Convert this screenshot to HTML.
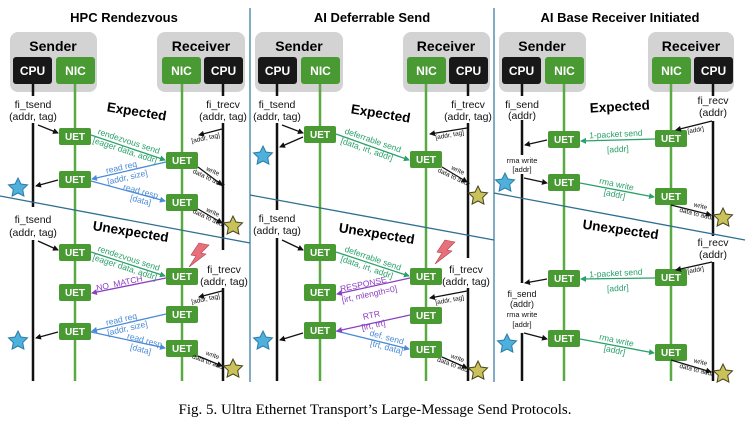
<!DOCTYPE html>
<html><head><meta charset="utf-8"><style>
html,body{margin:0;padding:0;background:#fff;}
svg{display:block;font-family:"Liberation Sans",sans-serif;}
.t{font-weight:bold;font-size:13px;text-anchor:middle;}
.hd{font-weight:bold;font-size:14px;text-anchor:middle;}
.bx{font-weight:bold;font-size:12px;fill:#fff;text-anchor:middle;}
.u{font-weight:bold;font-size:10px;fill:#fff;text-anchor:middle;}
.lb{font-size:10.5px;text-anchor:middle;fill:#111;}
.s{font-size:7.5px;text-anchor:middle;}
.ex{font-weight:bold;font-size:13.5px;text-anchor:middle;}
</style></head><body>
<svg width="750" height="428" viewBox="0 0 750 428" xmlns="http://www.w3.org/2000/svg">
<defs>
<marker id="ak" markerWidth="6" markerHeight="6" refX="5" refY="3" orient="auto" markerUnits="userSpaceOnUse"><path d="M0,0L6,3L0,6z" fill="#111"/></marker>
<marker id="ag" markerWidth="6" markerHeight="6" refX="5" refY="3" orient="auto" markerUnits="userSpaceOnUse"><path d="M0,0L6,3L0,6z" fill="#2aa06a"/></marker>
<marker id="ab" markerWidth="6" markerHeight="6" refX="5" refY="3" orient="auto" markerUnits="userSpaceOnUse"><path d="M0,0L6,3L0,6z" fill="#4a8ad6"/></marker>
<marker id="ap" markerWidth="6" markerHeight="6" refX="5" refY="3" orient="auto" markerUnits="userSpaceOnUse"><path d="M0,0L6,3L0,6z" fill="#8a3fc0"/></marker>
<g id="bs"><polygon points="0,-10 2.9,-4 9.5,-3.1 4.7,1.5 5.9,8.1 0,5 -5.9,8.1 -4.7,1.5 -9.5,-3.1 -2.9,-4" fill="#4fb0dc" stroke="#2a7ea8" stroke-width="1"/></g>
<g id="gs"><polygon points="0,-10 2.9,-4 9.5,-3.1 4.7,1.5 5.9,8.1 0,5 -5.9,8.1 -4.7,1.5 -9.5,-3.1 -2.9,-4" fill="#c9c25a" stroke="#4a4420" stroke-width="1"/></g>
<g id="lt"><polygon points="4,-12 14,-10 6,-2 11,-1 -6,12 1,1 -4,0" fill="#e8707a" stroke="#b04050" stroke-width="0.6"/></g>
</defs>

<!-- separators -->
<line x1="250" y1="8" x2="250" y2="382" stroke="#3f7fa8" stroke-width="1.3"/>
<line x1="494" y1="8" x2="494" y2="382" stroke="#3f7fa8" stroke-width="1.3"/>

<!-- titles -->
<text class="t" x="124" y="22">HPC Rendezvous</text>
<text class="t" x="372" y="22">AI Deferrable Send</text>
<text class="t" x="620" y="22">AI Base Receiver Initiated</text>

<!-- header boxes -->
<g>
<rect x="10" y="32" width="87" height="60" rx="8" fill="#d3d3d3"/>
<text class="hd" x="53" y="51">Sender</text>
<rect x="13" y="57" width="39" height="27" rx="3" fill="#181818"/><text class="bx" x="32.5" y="75">CPU</text>
<rect x="56" y="57" width="39" height="27" rx="3" fill="#4a9a34"/><text class="bx" x="75.5" y="75">NIC</text>
<rect x="157" y="32" width="88" height="60" rx="8" fill="#d3d3d3"/>
<text class="hd" x="201" y="51">Receiver</text>
<rect x="162" y="57" width="39" height="27" rx="3" fill="#4a9a34"/><text class="bx" x="181.5" y="75">NIC</text>
<rect x="204" y="57" width="39" height="27" rx="3" fill="#181818"/><text class="bx" x="223.5" y="75">CPU</text>

<rect x="255" y="32" width="88" height="60" rx="8" fill="#d3d3d3"/>
<text class="hd" x="299" y="51">Sender</text>
<rect x="258" y="57" width="39" height="27" rx="3" fill="#181818"/><text class="bx" x="277.5" y="75">CPU</text>
<rect x="301" y="57" width="39" height="27" rx="3" fill="#4a9a34"/><text class="bx" x="320.5" y="75">NIC</text>
<rect x="403" y="32" width="87" height="60" rx="8" fill="#d3d3d3"/>
<text class="hd" x="446" y="51">Receiver</text>
<rect x="407" y="57" width="39" height="27" rx="3" fill="#4a9a34"/><text class="bx" x="426.5" y="75">NIC</text>
<rect x="449" y="57" width="39" height="27" rx="3" fill="#181818"/><text class="bx" x="468.5" y="75">CPU</text>

<rect x="499" y="32" width="87" height="60" rx="8" fill="#d3d3d3"/>
<text class="hd" x="542" y="51">Sender</text>
<rect x="502" y="57" width="39" height="27" rx="3" fill="#181818"/><text class="bx" x="521.5" y="75">CPU</text>
<rect x="545" y="57" width="39" height="27" rx="3" fill="#4a9a34"/><text class="bx" x="564.5" y="75">NIC</text>
<rect x="648" y="32" width="86" height="60" rx="8" fill="#d3d3d3"/>
<text class="hd" x="691" y="51">Receiver</text>
<rect x="652" y="57" width="39" height="27" rx="3" fill="#4a9a34"/><text class="bx" x="671.5" y="75">NIC</text>
<rect x="694" y="57" width="39" height="27" rx="3" fill="#181818"/><text class="bx" x="713.5" y="75">CPU</text>
</g>

<!-- green lifelines -->
<g stroke="#5aaa44" stroke-width="2.5">
<line x1="75" y1="84" x2="75" y2="381"/><line x1="182" y1="84" x2="182" y2="381"/>
<line x1="320" y1="84" x2="320" y2="381"/><line x1="426" y1="84" x2="426" y2="381"/>
<line x1="564" y1="84" x2="564" y2="381"/><line x1="671" y1="84" x2="671" y2="381"/>
</g>
<!-- black lifelines -->
<g stroke="#111" stroke-width="2.5">
<line x1="33" y1="84" x2="33" y2="96"/><line x1="33" y1="123" x2="33" y2="207"/><line x1="33" y1="240" x2="33" y2="381"/>
<line x1="223" y1="84" x2="223" y2="96"/><line x1="223" y1="123" x2="223" y2="250"/><line x1="223" y1="288" x2="223" y2="381"/>
<line x1="277" y1="84" x2="277" y2="96"/><line x1="277" y1="123" x2="277" y2="210"/><line x1="277" y1="238" x2="277" y2="381"/>
<line x1="468" y1="84" x2="468" y2="96"/><line x1="468" y1="123" x2="468" y2="258"/><line x1="468" y1="288" x2="468" y2="381"/>
<line x1="522" y1="84" x2="522" y2="96"/><line x1="522" y1="120" x2="522" y2="155"/><line x1="522" y1="174" x2="522" y2="283"/><line x1="522" y1="333" x2="522" y2="381"/>
<line x1="713" y1="84" x2="713" y2="96"/><line x1="713" y1="121" x2="713" y2="236"/><line x1="713" y1="262" x2="713" y2="381"/>
</g>

<!-- dividing lines -->
<line x1="0" y1="196" x2="250" y2="243" stroke="#2f6f90" stroke-width="1.3"/>
<line x1="250" y1="195" x2="494" y2="240" stroke="#2f6f90" stroke-width="1.3"/>
<line x1="494" y1="193" x2="745" y2="240" stroke="#2f6f90" stroke-width="1.3"/>

<!-- Expected / Unexpected -->
<text class="ex" transform="translate(136,116) rotate(9)">Expected</text>
<text class="ex" transform="translate(130,236) rotate(9)">Unexpected</text>
<text class="ex" transform="translate(380,118) rotate(9)">Expected</text>
<text class="ex" transform="translate(376,238) rotate(9)">Unexpected</text>
<text class="ex" transform="translate(620,111) rotate(-3)">Expected</text>
<text class="ex" transform="translate(620,234) rotate(8)">Unexpected</text>

<!-- CPU labels -->
<g class="lb">
<text x="33" y="108" class="lb">fi_tsend</text><text x="33" y="120" class="lb">(addr, tag)</text>
<text x="223" y="108" class="lb">fi_trecv</text><text x="223" y="120" class="lb">(addr, tag)</text>
<text x="33" y="223" class="lb">fi_tsend</text><text x="33" y="236" class="lb">(addr, tag)</text>
<text x="224" y="273" class="lb">fi_trecv</text><text x="224" y="285" class="lb">(addr, tag)</text>
<text x="277" y="108" class="lb">fi_tsend</text><text x="277" y="120" class="lb">(addr, tag)</text>
<text x="468" y="108" class="lb">fi_trecv</text><text x="468" y="120" class="lb">(addr, tag)</text>
<text x="277" y="222" class="lb">fi_tsend</text><text x="277" y="234" class="lb">(addr, tag)</text>
<text x="466" y="273" class="lb">fi_trecv</text><text x="466" y="285" class="lb">(addr, tag)</text>
<text x="522" y="108" class="lb">fi_send</text><text x="522" y="119" class="lb">(addr)</text>
<text x="713" y="104" class="lb">fi_recv</text><text x="713" y="116" class="lb">(addr)</text>
<text x="713" y="246" class="lb">fi_recv</text><text x="713" y="258" class="lb">(addr)</text>
<text x="522" y="297" class="lb" style="font-size:9px">fi_send</text><text x="522" y="307" class="lb" style="font-size:9px">(addr)</text>
</g>
<g class="s" fill="#111">
<text x="522" y="163">rma write</text><text x="522" y="172">[addr]</text>
<text x="522" y="317">rma write</text><text x="522" y="327">[addr]</text>
</g>

<!-- UET boxes -->
<g fill="#4a9a34">
<rect x="59" y="128" width="32" height="17" rx="2"/><rect x="166" y="152" width="32" height="17" rx="2"/>
<rect x="59" y="171" width="32" height="17" rx="2"/><rect x="166" y="194" width="32" height="17" rx="2"/>
<rect x="59" y="244" width="32" height="17" rx="2"/><rect x="166" y="268" width="32" height="17" rx="2"/>
<rect x="59" y="284" width="32" height="17" rx="2"/><rect x="166" y="306" width="32" height="17" rx="2"/>
<rect x="59" y="323" width="32" height="17" rx="2"/><rect x="166" y="340" width="32" height="17" rx="2"/>

<rect x="304" y="126" width="32" height="17" rx="2"/><rect x="410" y="151" width="32" height="17" rx="2"/>
<rect x="304" y="244" width="32" height="17" rx="2"/><rect x="410" y="268" width="32" height="17" rx="2"/>
<rect x="304" y="284" width="32" height="17" rx="2"/><rect x="410" y="307" width="32" height="17" rx="2"/>
<rect x="304" y="322" width="32" height="17" rx="2"/><rect x="410" y="341" width="32" height="17" rx="2"/>

<rect x="548" y="131" width="32" height="17" rx="2"/><rect x="655" y="130" width="32" height="17" rx="2"/>
<rect x="548" y="174" width="32" height="17" rx="2"/><rect x="655" y="188" width="32" height="17" rx="2"/>
<rect x="548" y="270" width="32" height="17" rx="2"/><rect x="655" y="269" width="32" height="17" rx="2"/>
<rect x="548" y="330" width="32" height="17" rx="2"/><rect x="655" y="344" width="32" height="17" rx="2"/>
</g>
<g class="u">
<text x="75" y="140">UET</text><text x="182" y="164">UET</text><text x="75" y="183">UET</text><text x="182" y="206">UET</text>
<text x="75" y="256">UET</text><text x="182" y="280">UET</text><text x="75" y="296">UET</text><text x="182" y="318">UET</text>
<text x="75" y="335">UET</text><text x="182" y="352">UET</text>
<text x="320" y="138">UET</text><text x="426" y="163">UET</text><text x="320" y="256">UET</text><text x="426" y="280">UET</text>
<text x="320" y="296">UET</text><text x="426" y="319">UET</text><text x="320" y="334">UET</text><text x="426" y="353">UET</text>
<text x="564" y="143">UET</text><text x="671" y="142">UET</text><text x="564" y="186">UET</text><text x="671" y="200">UET</text>
<text x="564" y="282">UET</text><text x="671" y="281">UET</text><text x="564" y="342">UET</text><text x="671" y="356">UET</text>
</g>

<!-- black arrows -->
<g stroke="#111" stroke-width="1.3" marker-end="url(#ak)" fill="none">
<line x1="38" y1="125" x2="58" y2="133"/><line x1="58" y1="180" x2="36" y2="186"/>
<line x1="222" y1="129" x2="199" y2="135"/>
<line x1="198" y1="167" x2="222" y2="185"/><line x1="198" y1="209" x2="222" y2="223"/>
<line x1="38" y1="241" x2="58" y2="250"/>
<line x1="222" y1="291" x2="199" y2="297"/>
<line x1="58" y1="332" x2="36" y2="338"/><line x1="198" y1="356" x2="222" y2="366"/>

<line x1="282" y1="125" x2="303" y2="133"/><line x1="303" y1="137" x2="280" y2="147"/>
<line x1="467" y1="128" x2="430" y2="134"/><line x1="442" y1="167" x2="467" y2="182"/>
<line x1="282" y1="240" x2="303" y2="250"/>
<line x1="467" y1="291" x2="430" y2="298"/>
<line x1="303" y1="333" x2="280" y2="340"/><line x1="442" y1="357" x2="467" y2="368"/>

<line x1="712" y1="121" x2="676" y2="130"/><line x1="547" y1="140" x2="525" y2="145"/>
<line x1="524" y1="178" x2="547" y2="183"/><line x1="671" y1="205" x2="711" y2="215"/>
<line x1="712" y1="262" x2="676" y2="270"/><line x1="547" y1="279" x2="525" y2="283"/>
<line x1="524" y1="333" x2="547" y2="339"/><line x1="671" y1="360" x2="711" y2="372"/>
</g>
<!-- green arrows -->
<g stroke="#2aa06a" stroke-width="1.3" marker-end="url(#ag)">
<line x1="91" y1="135" x2="165" y2="160"/><line x1="91" y1="252" x2="165" y2="276"/>
<line x1="336" y1="134" x2="409" y2="160"/><line x1="336" y1="252" x2="409" y2="276"/>
<line x1="655" y1="139" x2="581" y2="141"/><line x1="580" y1="183" x2="654" y2="197"/>
<line x1="655" y1="278" x2="581" y2="279"/><line x1="580" y1="339" x2="654" y2="353"/>
</g>
<!-- blue arrows -->
<g stroke="#4a8ad6" stroke-width="1.3">
<line x1="166" y1="162" x2="92" y2="179" marker-end="url(#ab)"/>
<line x1="91" y1="181" x2="165" y2="201" marker-end="url(#ab)"/>
<line x1="166" y1="314" x2="92" y2="331" marker-end="url(#ab)"/>
<line x1="91" y1="332" x2="165" y2="348" marker-end="url(#ab)"/>
<line x1="336" y1="331" x2="409" y2="349" marker-end="url(#ab)"/>
</g>
<!-- purple -->
<g stroke="#8a3fc0" stroke-width="1.3" marker-end="url(#ap)">
<line x1="166" y1="278" x2="92" y2="293"/>
<line x1="410" y1="278" x2="337" y2="294"/>
<line x1="410" y1="315" x2="337" y2="331"/>
</g>

<!-- arrow labels -->
<g class="s">
<g fill="#2aa06a" style="font-size:8.5px">
<text transform="translate(128,144) rotate(18)">rendezvous send</text>
<text transform="translate(124,153) rotate(18)">[eager data, addr]</text>
<text transform="translate(128,261) rotate(18)">rendezvous send</text>
<text transform="translate(124,270) rotate(18)">[eager data, addr]</text>
<text transform="translate(372,143) rotate(19)">deferrable send</text>
<text transform="translate(366,152) rotate(19)">[data, irt, addr]</text>
<text transform="translate(372,261) rotate(19)">deferrable send</text>
<text transform="translate(366,270) rotate(19)">[data, irt, addr]</text>
<text transform="translate(616,137) rotate(-3)">1-packet send</text>
<text transform="translate(618,152) rotate(-3)">[addr]</text>
<text transform="translate(616,276) rotate(-3)">1-packet send</text>
<text transform="translate(618,291) rotate(-3)">[addr]</text>
<text transform="translate(616,187) rotate(12)">rma write</text>
<text transform="translate(614,197) rotate(12)">[addr]</text>
<text transform="translate(616,343) rotate(12)">rma write</text>
<text transform="translate(614,353) rotate(12)">[addr]</text>
</g>
<g fill="#4a8ad6" style="font-size:8.5px">
<text transform="translate(122,170) rotate(-13)">read req</text>
<text transform="translate(128,180) rotate(-13)">[addr, size]</text>
<text transform="translate(140,194) rotate(15)">read resp</text>
<text transform="translate(140,203) rotate(15)">[data]</text>
<text transform="translate(122,322) rotate(-13)">read req</text>
<text transform="translate(128,331) rotate(-13)">[addr, size]</text>
<text transform="translate(144,343) rotate(15)">read resp</text>
<text transform="translate(140,352) rotate(15)">[data]</text>
<text transform="translate(386,340) rotate(15)">def. send</text>
<text transform="translate(386,350) rotate(15)">[trt, data]</text>
</g>
<g fill="#8a3fc0" style="font-size:8.5px">
<text transform="translate(120,286) rotate(-12)">NO_MATCH</text>
<text transform="translate(364,287) rotate(-12)">RESPONSE</text>
<text transform="translate(370,297) rotate(-12)">[irt, mlength=0]</text>
<text transform="translate(372,318) rotate(-12)">RTR</text>
<text transform="translate(374,328) rotate(-12)">[irt, trt]</text>
</g>
<g fill="#111" style="font-size:6.5px">
<text transform="translate(206,140) rotate(-12)">[addr, tag]</text>
<text transform="translate(206,301) rotate(-12)">[addr, tag]</text>
<text transform="translate(450,137) rotate(-10)">[addr, tag]</text>
<text transform="translate(450,302) rotate(-10)">[addr, tag]</text>
<text transform="translate(696,132) rotate(-10)">[addr]</text>
<text transform="translate(696,272) rotate(-10)">[addr]</text>
<text transform="translate(212,173) rotate(25)">write</text><text transform="translate(208,180) rotate(25)">data to addr</text>
<text transform="translate(212,214) rotate(25)">write</text><text transform="translate(208,220) rotate(25)">data to addr</text>
<text transform="translate(212,357) rotate(20)">write</text><text transform="translate(208,364) rotate(20)">data to addr</text>
<text transform="translate(457,172) rotate(25)">write</text><text transform="translate(453,179) rotate(25)">data to addr</text>
<text transform="translate(457,360) rotate(20)">write</text><text transform="translate(453,367) rotate(20)">data to addr</text>
<text transform="translate(700,208) rotate(14)">write</text><text transform="translate(696,216) rotate(14)">data to addr</text>
<text transform="translate(700,364) rotate(14)">write</text><text transform="translate(696,372) rotate(14)">data to addr</text>
</g>
</g>

<!-- stars & lightning -->
<use href="#bs" x="18" y="188"/><use href="#bs" x="18" y="341"/>
<use href="#gs" x="233" y="226"/><use href="#gs" x="233" y="369"/>
<use href="#bs" x="263" y="156"/><use href="#bs" x="263" y="341"/>
<use href="#gs" x="478" y="196"/><use href="#gs" x="478" y="371"/>
<use href="#bs" x="505" y="183"/><use href="#bs" x="507" y="344"/>
<use href="#gs" x="723" y="218"/><use href="#gs" x="723" y="374"/>
<use href="#lt" x="195" y="255"/><use href="#lt" x="441" y="252"/>

<!-- caption -->
<text x="375" y="414" text-anchor="middle" style="font-family:'Liberation Serif',serif;font-size:15px;">Fig. 5.  Ultra Ethernet Transport’s Large-Message Send Protocols.</text>
</svg>
</body></html>
